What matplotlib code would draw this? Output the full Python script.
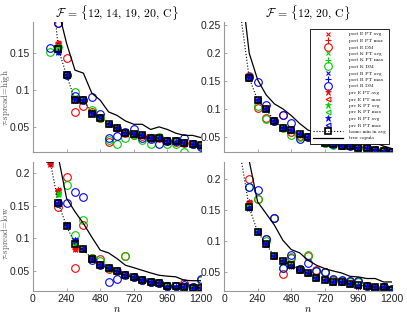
import numpy as np
import matplotlib
matplotlib.use('Agg')
import matplotlib.pyplot as plt
from matplotlib.ticker import FormatStrFormatter

plt.rcParams['mathtext.fontset'] = 'cm'
plt.rcParams['font.family'] = ['Liberation Sans', 'DejaVu Sans']
nan = np.nan

# sample sizes
n = [120, 180, 240, 300, 360, 420, 480, 540, 600, 660, 720, 780, 840, 900, 960, 1020, 1080, 1140, 1200]

# ---- F = {12, 14, 19, 20, C}, tau-spread = high
tl_homo = [0.28, 0.156, 0.12, 0.087, 0.087, 0.0685, 0.063, 0.055, 0.049, 0.042, 0.0405, 0.039, 0.0355, 0.035, 0.0315, 0.031, 0.029, 0.027, 0.026]
tl_true = [0.30, 0.209, 0.163, 0.127, 0.123, 0.096, 0.0865, 0.0707, 0.066, 0.0585, 0.054, 0.054, 0.047, 0.0505, 0.047, 0.042, 0.039, 0.039, 0.036]
tl_e_dm = [nan, 0.19, 0.143, 0.070, 0.078, 0.071, 0.063, 0.030, 0.049, 0.042, 0.040, 0.038, 0.036, 0.035, 0.031, 0.030, 0.029, 0.027, 0.026]
tl_k_dm = [0.152, 0.158, 0.12, 0.097, 0.087, 0.073, 0.063, 0.033, 0.028, 0.036, 0.040, 0.033, 0.027, 0.037, 0.028, 0.028, 0.017, 0.027, 0.025]
tl_r_dm = [0.157, 0.19, 0.12, 0.092, 0.087, 0.091, 0.068, 0.035, 0.038, 0.0435, 0.048, 0.036, 0.034, 0.027, 0.032, 0.031, 0.036, 0.027, 0.023]
tl_e_pt = [nan, 0.163, 0.12, 0.087, 0.087, 0.069, 0.063, 0.055, 0.049, 0.042, 0.040, 0.039, 0.035, 0.035, 0.031, 0.030, 0.029, 0.027, 0.026]
tl_k_pt = [nan, 0.158, 0.12, 0.087, 0.088, 0.070, 0.063, 0.054, 0.049, 0.042, 0.040, 0.039, 0.036, 0.035, 0.032, 0.031, 0.029, 0.027, 0.026]
tl_r_pt = [nan, 0.152, 0.121, 0.088, 0.087, 0.069, 0.064, 0.055, 0.049, 0.042, 0.041, 0.039, 0.036, 0.035, 0.032, 0.030, 0.029, 0.027, 0.025]

# ---- F = {12, 20, C}, tau-spread = high
tr_homo = [0.266, 0.156, 0.116, 0.101, 0.079, 0.067, 0.063, 0.0553, 0.0505, 0.0485, 0.0406, 0.038, 0.0346, 0.034, 0.0318, 0.031, 0.0275, 0.0265, 0.024]
tr_true = [0.33, 0.20, 0.1527, 0.126, 0.1096, 0.1008, 0.089, 0.0748, 0.063, 0.058, 0.055, 0.051, 0.0477, 0.047, 0.044, 0.042, 0.040, 0.0346, 0.030]
tr_e_dm = [nan, 0.160, 0.103, 0.085, 0.080, 0.089, 0.060, 0.052, 0.050, 0.048, 0.040, 0.040, 0.0465, 0.042, 0.033, 0.031, 0.028, 0.027, 0.024]
tr_k_dm = [nan, 0.157, 0.106, 0.083, 0.079, 0.067, 0.0535, 0.050, 0.050, 0.046, 0.040, 0.037, 0.037, 0.036, 0.032, 0.030, 0.026, 0.026, 0.024]
tr_r_dm = [nan, 0.158, 0.148, 0.108, 0.079, 0.089, 0.076, 0.048, 0.050, 0.048, 0.041, 0.039, 0.036, 0.035, 0.0465, 0.031, 0.028, 0.026, 0.024]
tr_e_pt = [nan, 0.160, 0.117, 0.102, 0.079, 0.067, 0.063, 0.055, 0.050, 0.048, 0.041, 0.038, 0.035, 0.034, 0.032, 0.031, 0.028, 0.026, 0.024]
tr_k_pt = [nan, 0.157, 0.115, 0.101, 0.079, 0.067, 0.062, 0.055, 0.050, 0.049, 0.040, 0.038, 0.034, 0.034, 0.032, 0.030, 0.027, 0.027, 0.024]
tr_r_pt = [nan, 0.158, 0.116, 0.101, 0.080, 0.067, 0.063, 0.056, 0.051, 0.048, 0.041, 0.038, 0.035, 0.034, 0.032, 0.031, 0.028, 0.026, 0.024]

# ---- F = {12, 14, 19, 20, C}, tau-spread = low
bl_homo = [0.222, 0.154, 0.119, 0.091, 0.083, 0.069, 0.059, 0.054, 0.050, 0.0434, 0.040, 0.036, 0.033, 0.032, 0.0264, 0.0264, 0.025, 0.0245, 0.0245]
bl_true = [0.29, 0.226, 0.1615, 0.141, 0.123, 0.102, 0.082, 0.0777, 0.069, 0.0588, 0.055, 0.051, 0.047, 0.0434, 0.042, 0.041, 0.0357, 0.035, 0.035]
bl_e_dm = [nan, 0.148, 0.195, 0.054, 0.120, 0.070, 0.068, 0.053, 0.050, 0.073, 0.040, 0.036, 0.033, 0.032, 0.027, 0.027, 0.0315, 0.025, 0.036]
bl_k_dm = [nan, 0.155, 0.182, 0.105, 0.128, 0.070, 0.065, 0.054, 0.050, 0.073, 0.040, 0.036, 0.033, 0.032, 0.027, 0.027, 0.026, 0.025, 0.036]
bl_r_dm = [nan, 0.155, 0.155, 0.171, 0.163, 0.067, 0.059, 0.033, 0.037, 0.044, 0.040, 0.036, 0.033, 0.032, 0.027, 0.027, 0.028, 0.025, 0.037]
bl_e_pt = [0.215, 0.175, 0.12, 0.083, 0.084, 0.070, 0.060, 0.054, 0.050, 0.044, 0.040, 0.036, 0.033, 0.032, 0.027, 0.026, 0.025, 0.025, 0.024]
bl_k_pt = [nan, 0.168, 0.121, 0.092, 0.086, 0.069, 0.059, 0.054, 0.050, 0.043, 0.040, 0.036, 0.033, 0.032, 0.027, 0.026, 0.025, 0.025, 0.024]
bl_r_pt = [nan, 0.155, 0.120, 0.097, 0.084, 0.069, 0.059, 0.054, 0.050, 0.044, 0.040, 0.036, 0.033, 0.032, 0.026, 0.026, 0.025, 0.024, 0.024]

# ---- F = {12, 20, C}, tau-spread = low
br_homo = [0.236, 0.1545, 0.115, 0.095, 0.0755, 0.068, 0.061, 0.054, 0.0484, 0.041, 0.0377, 0.034, 0.034, 0.031, 0.0284, 0.027, 0.026, 0.026, 0.0214]
br_true = [0.32, 0.23, 0.1636, 0.1448, 0.1258, 0.1015, 0.0863, 0.081, 0.069, 0.061, 0.0555, 0.0516, 0.0484, 0.043, 0.042, 0.0394, 0.0394, 0.0338, 0.0338]
br_e_dm = [nan, 0.200, 0.168, 0.103, 0.138, 0.047, 0.072, 0.055, 0.076, 0.053, 0.050, 0.037, 0.036, 0.035, 0.036, 0.028, 0.020, 0.026, 0.022]
br_k_dm = [nan, 0.187, 0.168, 0.100, 0.138, 0.057, 0.075, 0.055, 0.077, 0.052, 0.050, 0.036, 0.035, 0.034, 0.033, 0.027, 0.021, 0.026, 0.022]
br_r_dm = [nan, 0.187, 0.183, 0.103, 0.138, 0.057, 0.077, 0.055, 0.065, 0.052, 0.050, 0.038, 0.037, 0.036, 0.036, 0.028, 0.024, 0.026, 0.022]
br_e_pt = [nan, 0.163, 0.116, 0.096, 0.076, 0.068, 0.061, 0.054, 0.048, 0.041, 0.038, 0.034, 0.034, 0.031, 0.028, 0.027, 0.026, 0.026, 0.022]
br_k_pt = [nan, 0.156, 0.116, 0.096, 0.077, 0.068, 0.061, 0.054, 0.048, 0.042, 0.038, 0.034, 0.034, 0.031, 0.029, 0.027, 0.026, 0.026, 0.022]
br_r_pt = [nan, 0.154, 0.115, 0.095, 0.076, 0.068, 0.060, 0.054, 0.049, 0.041, 0.037, 0.034, 0.033, 0.031, 0.028, 0.027, 0.026, 0.025, 0.021]

titles = [r'$\mathcal{F}\,=\,\{12,\,14,\,19,\,20,\,\mathrm{C}\}$', r'$\mathcal{F}\,=\,\{12,\,20,\,\mathrm{C}\}$']
ylabels = [r'$\tau$-spread=high', r'$\tau$-spread=low']
xticks = [0, 240, 480, 720, 960, 1200]

RED, GREEN, BLUE = '#ff0000', '#00d000', '#0000ff'


def draw_panel(ax, e_pt, k_pt, r_pt, e_dm, k_dm, r_dm, homo, true_cop):
    hs = []
    for name, col, pt, dm in [('E', RED, e_pt, e_dm), ('K', GREEN, k_pt, k_dm), ('R', BLUE, r_pt, r_dm)]:
        hs += ax.plot(n, pt, 'x', color=col, ms=3.5, mew=0.8, label='post %s PT avg' % name)
        hs += ax.plot(n, pt, '+', color=col, ms=4.5, mew=0.8, label='post %s PT max' % name)
        hs += ax.plot(n, dm, 'o', color=col, mfc='none', ms=5.5, mew=0.8, label='post %s DM' % name)
    pre = []
    for name, col, pt in [('E', RED, e_pt), ('K', GREEN, k_pt), ('R', BLUE, r_pt)]:
        pre += ax.plot(n, pt, '*', color=col, ms=4.5, mew=0.5, label='pre %s PT avg' % name)
        pre += ax.plot(n, pt, '<', color=col, mfc='none', ms=3.5, mew=0.8, label='pre %s PT max' % name)
    hs += pre
    hs += ax.plot(n, homo, ':s', color='k', mfc='none', ms=4, mew=1.2, lw=0.8, label='homo min in avg')
    hs += ax.plot(n, true_cop, '-', color='k', lw=0.9, label='true copula')
    return hs


fig = plt.figure(figsize=(4.07, 3.14), dpi=100)
W, H = 407.0, 314.0
boxes = [(33, 22, 201, 152), (224, 22, 392, 152), (33, 162, 201, 291), (224, 162, 392, 291)]
data = [
    (tl_e_pt, tl_k_pt, tl_r_pt, tl_e_dm, tl_k_dm, tl_r_dm, tl_homo, tl_true),
    (tr_e_pt, tr_k_pt, tr_r_pt, tr_e_dm, tr_k_dm, tr_r_dm, tr_homo, tr_true),
    (bl_e_pt, bl_k_pt, bl_r_pt, bl_e_dm, bl_k_dm, bl_r_dm, bl_homo, bl_true),
    (br_e_pt, br_k_pt, br_r_pt, br_e_dm, br_k_dm, br_r_dm, br_homo, br_true),
]
ylims = [(0.0166, 0.192), (0.024, 0.2553), (0.0192, 0.2174), (0.0192, 0.228)]
yticks = [[0.05, 0.1, 0.15], [0.05, 0.1, 0.15, 0.2, 0.25], [0.05, 0.1, 0.15, 0.2], [0.05, 0.1, 0.15, 0.2]]

for i, (x0, y0, x1, y1) in enumerate(boxes):
    ax = fig.add_axes([x0 / W, 1 - y1 / H, (x1 - x0) / W, (y1 - y0) / H])
    hs = draw_panel(ax, *data[i])
    ax.set_xlim(0, 1200)
    ax.set_ylim(*ylims[i])
    ax.set_xticks(xticks)
    ax.set_yticks(yticks[i])
    ax.yaxis.set_major_formatter(FormatStrFormatter('%g'))
    for s in ['top', 'right']:
        ax.spines[s].set_visible(False)
    for s in ['left', 'bottom']:
        ax.spines[s].set_color('#999999')
        ax.spines[s].set_linewidth(0.8)
    ax.tick_params(direction='in', length=2, width=0.6, color='#999999', labelsize=7.5,
                   labelcolor='#222222', pad=2)
    if i < 2:
        ax.set_xticklabels([])
        ax.set_title(titles[i], fontsize=8.5, pad=3)
    else:
        ax.set_xlabel(r'$n$', fontsize=7.5, labelpad=0)
    if i % 2 == 0:
        ax.set_ylabel(ylabels[i // 2], fontsize=6.3, family='cmr10', color='#555555')
        ax.yaxis.set_label_coords(-0.125, 0.42 if i == 0 else 0.45)
    if i == 1:
        leg = ax.legend(handles=hs, loc='upper right', bbox_to_anchor=(389 / W, 1 - 29 / H),
                        bbox_transform=fig.transFigure, prop={'family': 'cmr10', 'size': 3.6},
                        numpoints=1, handlelength=6, labelspacing=0.4, borderpad=0.6,
                        handletextpad=1.2, borderaxespad=0, fancybox=False, framealpha=1,
                        edgecolor='k')
        leg.get_frame().set_linewidth(0.6)

fig.savefig('out.png', dpi=100)
